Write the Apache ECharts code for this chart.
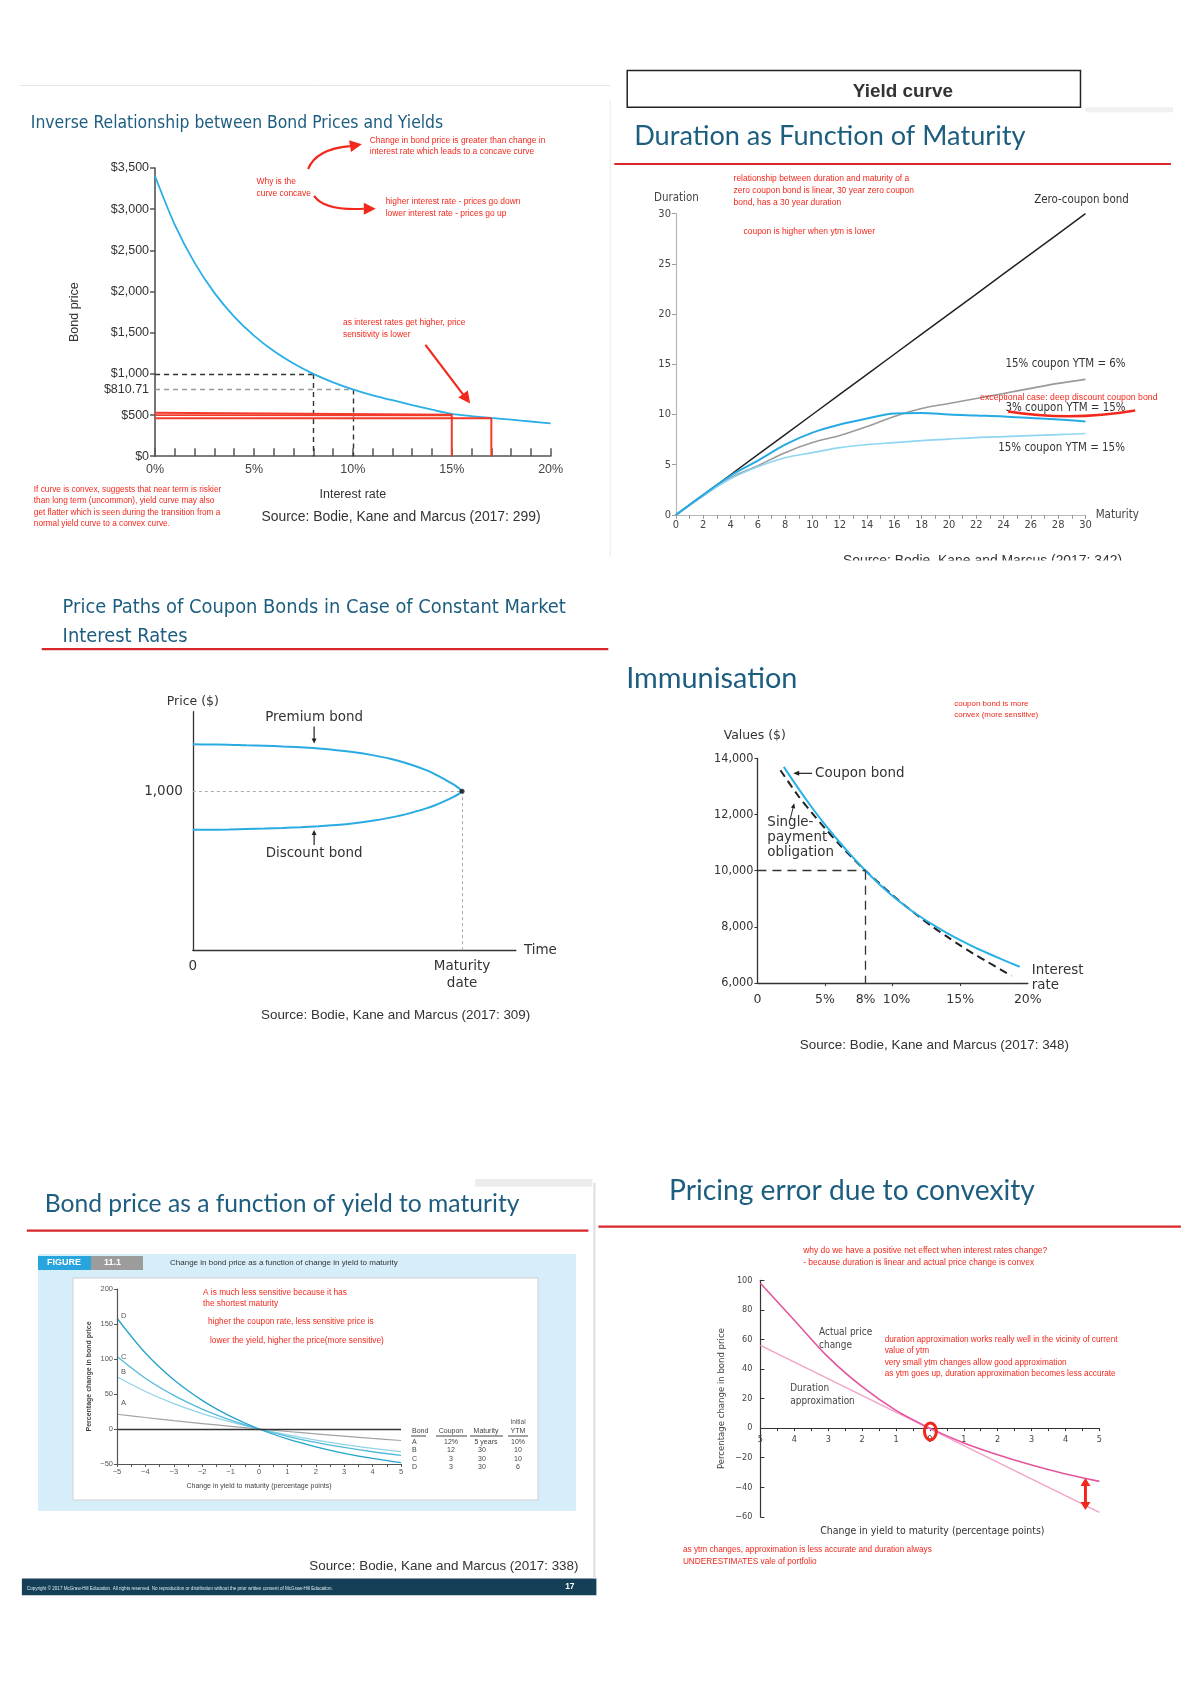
<!DOCTYPE html>
<html><head><meta charset="utf-8">
<script src="https://cdn.jsdelivr.net/npm/echarts@6/dist/echarts.min.js"></script>
<style>html,body{margin:0;padding:0;background:#fff;}#c{width:1200px;height:1698px;}</style>
</head><body><div id="c"></div>
<script>
// ---------- DATA ----------
// Panel 1: Inverse relationship between bond prices and yields
const p1Rates = [0,1,2,3,4,5,6,7,8,9,10,11,12,13,14,15,16,17,18,19,20];
const p1Prices = [3400,2810,2348,1984,1695,1464,1277,1125,1000,897,810.71,738,680,620,565,515,488,465,445,422,400];
const p1RedA = [[0,528],[15,505],[15,0]];
const p1RedB = [[0,500],[15,497]];
const p1RedC = [[0,462],[17,462],[17,0]];
// Panel 2: Duration as function of maturity
const p2Maturity = [0,2,4,6,8,10,12,14,16,18,20,22,24,26,28,30];
const p2Zero = [0,2,4,6,8,10,12,14,16,18,20,22,24,26,28,30];
const p2C15Y6 = [0,1.9,3.7,4.9,6.2,7.2,7.9,8.8,9.8,10.6,11.1,11.6,12.1,12.6,13.1,13.5];
const p2C3Y15 = [0,2.0,3.9,5.4,7.0,8.2,9.0,9.6,10.1,10.15,10.0,9.9,9.8,9.65,9.5,9.3];
const p2C15Y15 = [0,1.9,3.6,4.8,5.7,6.2,6.7,7.0,7.2,7.4,7.55,7.7,7.8,7.9,8.0,8.1];
// Panel 3: Price paths
const p3Time = [0,2,4,6,8,10,12,14,16,18,20,22,24,26,27,28,29,29.6,30];
const p3Premium = [1295,1294,1293,1289,1286,1281,1276,1268,1258,1245,1227,1204,1173,1133,1106,1076,1045,1021,1000];
const p3Discount = [757,758,759,762,765,769,774,780,788,799,814,834,859,892,912,936,963,982,1000];
// Panel 4: Immunisation
const p4CouponRate = [1.95,3,4,5,6,7,8,9,10,11,12,13,14,15,16,17,18,19.4];
const p4CouponVal = [13700,12950,12270,11640,11060,10510,10000,9530,9100,8720,8380,8070,7790,7530,7290,7070,6860,6580];
const p4ObligRate = [1.7,3,4,5,6,7,8,9,10,11,12,13,14,15,16,17,18,18.8];
const p4ObligVal = [13580,12680,12080,11510,10970,10470,10000,9560,9130,8730,8350,7990,7660,7340,7040,6760,6480,6260];
// Panel 5: Bond price vs change in YTM
const p5Change = [-5,-4,-3,-2,-1,0,1,2,3,4,5];
const p5A = [21.1,16.4,12.0,7.8,3.8,0,-3.6,-7.0,-10.3,-13.4,-16.4];
const p5B = [74.7,53.6,36.3,22.0,10.1,0,-8.5,-15.9,-22.2,-27.6,-32.4];
const p5C = [103.6,72.6,48.1,28.5,12.8,0,-10.5,-19.1,-26.3,-32.5,-37.6];
const p5D = [158.2,108.5,70.3,40.9,18.0,0,-14.2,-25.5,-34.7,-42.1,-48.1];
const p5Table = [['A','12%','5 years','10%'],['B','12','30','10'],['C','3','30','10'],['D','3','30','6']];
// Panel 6: Pricing error due to convexity
const p6Change = [-5,-4,-3,-2,-1,0,1,2,3,4,5];
const p6Actual = [98,73,48,28,12,0,-10,-18,-25,-31,-36];
const p6DurX = [-5,5];
const p6Dur = [56,-57];

// ---------- HELPERS ----------
const SC = 0.994;           // layout scale for positions measured from the overview
const S = v => v*SC;
const zip = (a,b) => a.map((v,i)=>[v,b[i]]);
const SANS = '"Liberation Sans", Arial, sans-serif';
const NARROW = '"Liberation Sans Narrow","DejaVu Sans Condensed","Liberation Sans",sans-serif';
const DJ = '"DejaVu Sans", sans-serif';
const CAL = 'Lato, "Open Sans", sans-serif';
const TEAL = '#1d5e80';
const RED = '#f2281c';
const RULE = '#d8262a';
function T(text,x,y,o){o=o||{};const a=o.a||'left',v=o.v||'middle';
  return {type:'text',x:x,y:y,z:o.z||100,style:{text:text,fill:o.c||'#333',
  font:(o.w||'normal')+' '+(o.s||12)+'px '+(o.f||SANS),textAlign:a,textVerticalAlign:v,align:a,verticalAlign:v,lineHeight:o.lh||Math.round((o.s||12)*1.25)}};}
function L(x1,y1,x2,y2,c,w,dash){return {type:'line',z:90,shape:{x1,y1,x2,y2},style:{stroke:c,lineWidth:w||1,lineDash:dash||null}};}
function R(x,y,w,h,fill,stroke,lw,z){return {type:'rect',z:z==null?1:z,shape:{x,y,width:w,height:h},style:{fill:fill||'none',stroke:stroke||null,lineWidth:lw||1}};}
function head(x,y,ang,len,wid,color){const c=Math.cos(ang),s=Math.sin(ang);const bx=x-len*c,by=y-len*s;
  return {type:'polygon',z:101,shape:{points:[[x,y],[bx-wid*s,by+wid*c],[bx+wid*s,by-wid*c]]},style:{fill:color}};}
function bez(x1,y1,cx,cy,x2,y2,c,w){return {type:'bezierCurve',z:100,shape:{x1,y1,x2,y2,cpx1:cx,cpy1:cy},style:{stroke:c,lineWidth:w,fill:null}};}
const money = v => '$' + Number(v).toLocaleString('en-US');
const comma = v => Number(v).toLocaleString('en-US');
const minus = v => v < 0 ? '\u2212' + (-v) : String(v);

// ---------- GRAPHICS (text & decorations) ----------
const g = [];   // scaled group
const g5 = [];  // unscaled (panel 5 figure internals)
// panel 1
g.push(L(20,86,614,86,'#e6e6e6',1));
g.push(L(614,100,614,560,'#f0f0f0',1.5));
g.push(T('Inverse Relationship between Bond Prices and Yields',31,124,{s:17.5,f:NARROW,c:TEAL}));
g.push(T('Change in bond price is greater than change in\ninterest rate which leads to a concave curve',372,136,{s:8.5,c:RED,v:'top',lh:11}));
g.push(T('Why is the\ncurve concave',258,177,{s:8.5,c:RED,v:'top',lh:12}));
g.push(T('higher interest rate - prices go down\nlower interest rate - prices go up',388,197,{s:8.5,c:RED,v:'top',lh:12}));
g.push(T('as interest rates get higher, price\nsensitivity is lower',345,319,{s:8.5,c:RED,v:'top',lh:12}));
g.push(T('If curve is convex, suggests that near term is riskier\nthan long term (uncommon), yield curve may also\nget flatter which is seen during the transition from a\nnormal yield curve to a convex curve.',34,487,{s:8.3,c:RED,v:'top',lh:11.5}));
g.push(T('Source: Bodie, Kane and Marcus (2017: 299)',263,520,{s:14}));
g.push(bez(310,170,318,150,352,147,RED,2.2)); g.push(head(364,145,Math.atan2(-2,12),12,6,RED));
g.push(bez(316,197,326,212,366,210,RED,2.2)); g.push(head(378,210,0,12,6,RED));
g.push(L(428,347,466,397,RED,2.2)); g.push(head(473,406,Math.atan2(51,38),12,6,RED));
// panel 2
g.push(R(631,71,456,37,'#fff','#222',1.5,2));
g.push(T('Yield curve',858,92,{s:19,w:'bold'}));
g.push(R(1092,108,88,5,'#f0f0f0',null,1,1));
g.push(T('Duration as Function of Maturity',638,137,{s:27.3,f:CAL,c:TEAL}));
g.push(L(618,165,1178,165,RULE,2.2));
g.push(T('Duration',658,199,{s:11.5,f:NARROW,c:'#444'}));
g.push(T('relationship between duration and maturity of a\nzero coupon bond is linear, 30 year zero coupon\nbond, has a 30 year duration',738,173,{s:8.5,c:RED,v:'top',lh:12.5}));
g.push(T('coupon is higher when ytm is lower',748,233,{s:8.5,c:RED}));
g.push(T('Zero-coupon bond',1088,201,{s:11.5,f:NARROW,a:'center',c:'#333'}));
g.push(T('15% coupon YTM = 6%',1072,366,{s:11.5,f:NARROW,a:'center',c:'#333'}));
g.push(T('3% coupon YTM = 15%',1072,410,{s:11.5,f:NARROW,a:'center',c:'#333'}));
g.push(T('15% coupon YTM = 15%',1068,451,{s:11.5,f:NARROW,a:'center',c:'#333'}));
g.push(T('exceptional case: deep discount coupon bond',986,400,{s:8.8,c:RED}));
g.push(bez(1014,414,1078,424,1142,413,RED,2.5));
g.push(T('Source: Bodie, Kane and Marcus (2017: 342)',848,565,{s:14}));
g.push(R(820,564,360,22,'#fff',null,1,120));
// panel 3
g.push(T('Price Paths of Coupon Bonds in Case of Constant Market\nInterest Rates',63,597,{s:20,f:NARROW,c:TEAL,v:'top',lh:29}));
g.push(L(42,653,612,653,RULE,2.2));
g.push(T('Premium bond',316,722,{s:13.5,a:'center',f:DJ}));
g.push(L(316,731,316,744,'#222',1.2)); g.push(head(316,748,Math.PI/2,5,2.5,'#222'));
g.push(T('Discount bond',316,859,{s:13.5,a:'center',f:DJ}));
g.push(L(316,850,316,839,'#222',1.2)); g.push(head(316,835,-Math.PI/2,5,2.5,'#222'));
g.push(T('Source: Bodie, Kane and Marcus (2017: 309)',398,1021,{s:13.5,a:'center'}));
// panel 4
g.push(T('Immunisation',630,683,{s:29,f:CAL,c:TEAL}));
g.push(T('coupon bond is more\nconvex (more sensitive)',960,703,{s:8,c:RED,v:'top',lh:11}));
g.push(T('Values ($)',728,740,{s:12.5,f:DJ}));
g.push(T('Coupon bond',820,778,{s:13.5,f:DJ}));
g.push(L(817,778,803,778,'#222',1.2)); g.push(head(798,778,Math.PI,6,2.5,'#222'));
g.push(T('Single-\npayment\nobligation',772,820,{s:13.5,f:DJ,v:'top',lh:15}));
g.push(L(795,824,798,812,'#222',1)); g.push(head(799,808,Math.atan2(-12,3),5,2.2,'#222'));
g.push(T('Interest\nrate',1038,969,{s:13.5,f:DJ,v:'top',lh:15}));
g.push(T('Source: Bodie, Kane and Marcus (2017: 348)',940,1052,{s:13.5,a:'center'}));
// panel 5 (slide frame parts)
g.push(R(478,1186,118,8,'#ececec',null,1,1));
g.push(L(598,1190,598,1588,'#dddddd',2));
g.push(T('Bond price as a function of yield to maturity',45,1211,{s:24.8,f:CAL,c:TEAL}));
g.push(L(27,1238,592,1238,RULE,2.2));
g.push(T('Source: Bodie, Kane and Marcus (2017: 338)',582,1576,{s:13.5,a:'right'}));
g.push(R(22,1588,578,17,'#143f56',null,1,2));
g.push(T('Copyright \u00a9 2017 McGraw-Hill Education. All rights reserved. No reproduction or distribution without the prior written consent of McGraw-Hill Education.',27,1598,{s:4.6,c:'#dfe9ee'}));
g.push(T('17',578,1596,{s:8.5,w:'bold',c:'#fff',a:'right'}));
// panel 5 figure internals (unscaled)
g5.push(R(38,1254,538,257,'#d6eef9',null,1,-5));
g5.push(R(38,1256,53,14,'#28a5dc',null,1,2));
g5.push(R(91,1256,52,14,'#9c9c9c',null,1,2));
g5.push(T('FIGURE',64,1263,{s:9,w:'bold',c:'#fff',a:'center'}));
g5.push(T('11.1',104,1263,{s:9,w:'bold',c:'#fff'}));
g5.push(T('Change in bond price as a function of change in yield to maturity',170,1263,{s:8,c:'#333'}));
g5.push(R(73,1278,465,222,'#fff','#d0d0d0',1,-4));
g5.push(T('A is much less sensitive because it has\nthe shortest maturity',203,1287,{s:8.3,c:RED,v:'top',lh:11}));
g5.push(T('higher the coupon rate, less sensitive price is',208,1322,{s:8.3,c:RED}));
g5.push(T('lower the yield, higher the price(more sensitive)',210,1341,{s:8.3,c:RED}));
g5.push(T('D',121,1316,{s:7.5,c:'#555'}));
g5.push(T('C',121,1357,{s:7.5,c:'#555'}));
g5.push(T('B',121,1372,{s:7.5,c:'#555'}));
g5.push(T('A',121,1403,{s:7.5,c:'#555'}));
const colX = [412,451,486,518];
g5.push(T('Initial',colX[3],1422,{s:6.5,a:'center',c:'#555'}));
['Bond','Coupon','Maturity','YTM'].forEach((h,i)=>{g5.push(T(h,colX[i],1431,{s:7,a:i===0?'left':'center',c:'#444'}));});
g5.push(L(411,1436,426,1436,'#444',1)); g5.push(L(436,1436,467,1436,'#444',1));
g5.push(L(470,1436,503,1436,'#444',1)); g5.push(L(508,1436,528,1436,'#444',1));
p5Table.forEach((row,r)=>{const y=1442+r*8.4;
  g5.push(T(row[0],colX[0],y,{s:7,c:'#444'}));
  g5.push(T(row[1],colX[1],y,{s:7,a:'center',c:'#444'}));
  g5.push(T(row[2],row[2].length>2?colX[2]:colX[2]-8,y,{s:7,a:row[2].length>2?'center':'left',c:'#444'}));
  g5.push(T(row[3],colX[3],y,{s:7,a:'center',c:'#444'}));});
// panel 6
g.push(T('Pricing error due to convexity',673,1198,{s:28.4,f:CAL,c:TEAL}));
g.push(L(602,1234,1188,1234,RULE,2.2));
g.push(T('why do we have a positive net effect when interest rates change?\n- because duration is linear and actual price change is convex',808,1252,{s:8.5,c:RED,v:'top',lh:12.5}));
g.push(T('Actual price\nchange',824,1334,{s:10,c:'#444',v:'top',lh:13,f:NARROW}));
g.push(T('Duration\napproximation',795,1390,{s:10,c:'#444',v:'top',lh:13,f:NARROW}));
g.push(T('duration approximation works really well in the vicinity of current\nvalue of ytm\nvery small ytm changes allow good approximation\nas ytm goes up, duration approximation becomes less accurate',890,1342,{s:8.3,c:RED,v:'top',lh:11.5}));
g.push({type:'ellipse',z:101,shape:{cx:936,cy:1440,rx:6,ry:8.5},style:{stroke:RED,lineWidth:3,fill:null}});
g.push(L(1092,1494,1092,1513,RED,3)); g.push(head(1092,1487,-Math.PI/2,8,5,RED)); g.push(head(1092,1519,Math.PI/2,8,5,RED));
g.push(T('Change in yield to maturity (percentage points)',938,1541,{s:10.5,a:'center',c:'#333',f:NARROW}));
g.push(T('as ytm changes, approximation is less accurate and duration always\nUNDERESTIMATES vale of portfolio',687,1553,{s:8.3,c:RED,v:'top',lh:12}));

// ---------- GRIDS ----------
const grids = [
  {left:S(156),top:S(169),width:S(398),height:S(290)},
  {left:S(680),top:S(215),width:S(412),height:S(303)},
  {left:S(194),top:S(716),width:S(325),height:S(240)},
  {left:S(762),top:S(763),width:S(272),height:S(226)},
  {left:117,top:1289,width:284,height:175},
  {left:S(765),top:S(1288),width:S(341),height:S(238)}
];
const p6ZeroOffset = grids[5].height*60/160; // distance from bottom edge to the zero line

// ---------- AXES ----------
const noSplit = {show:false};
const xAxes = [
  {gridIndex:0,type:'value',min:0,max:20,interval:1,splitLine:noSplit,
   axisLine:{onZero:false,lineStyle:{color:'#555',width:1.6}},axisTick:{inside:true,length:8,lineStyle:{color:'#555',width:1.5}},
   axisLabel:{formatter:v=>v%5===0?v+'%':'',color:'#444',fontSize:12.5,margin:7,fontFamily:SANS},
   name:'Interest rate',nameLocation:'middle',nameGap:32,nameTextStyle:{fontSize:12.5,color:'#333',fontFamily:SANS}},
  {gridIndex:1,type:'value',min:0,max:30,interval:1,splitLine:noSplit,
   axisLine:{onZero:false,lineStyle:{color:'#b8b8b8',width:1.2}},axisTick:{length:4,lineStyle:{color:'#999'}},
   axisLabel:{formatter:v=>v%2===0?String(v):'',color:'#444',fontSize:11,margin:5,fontFamily:NARROW},
   name:'Maturity',nameLocation:'end',nameGap:2,nameTextStyle:{fontSize:11.5,color:'#444',fontFamily:NARROW}},
  {gridIndex:2,type:'value',min:0,max:36,splitLine:noSplit,
   axisLine:{onZero:false,lineStyle:{color:'#333',width:1.3}},axisTick:{show:false},
   axisLabel:{customValues:[0,30],formatter:v=>v===0?'0':'Maturity\ndate',color:'#333',fontSize:13.5,margin:8,lineHeight:17,fontFamily:DJ},
   name:'Time',nameLocation:'end',nameGap:8,nameTextStyle:{fontSize:13.5,color:'#333',fontFamily:DJ}},
  {gridIndex:3,type:'value',min:0,max:20,splitLine:noSplit,
   axisLine:{onZero:false,lineStyle:{color:'#333',width:1.3}},axisTick:{customValues:[5,10,15],length:3,lineStyle:{color:'#333'}},
   axisLabel:{customValues:[0,5,8,10,15,20],formatter:v=>v===0?'0':(v===10?'  ':'')+v+'%',color:'#333',fontSize:12.5,margin:10,fontFamily:DJ}},
  {gridIndex:4,type:'value',min:-5,max:5,interval:0.5,splitLine:noSplit,z:20,
   axisLine:{onZero:false,lineStyle:{color:'#555',width:1.2}},axisTick:{length:3,lineStyle:{color:'#555'}},
   axisLabel:{formatter:v=>Number.isInteger(v)?minus(v):'',color:'#555',fontSize:7.5,margin:4},
   name:'Change in yield to maturity (percentage points)',nameLocation:'middle',nameGap:19,nameTextStyle:{fontSize:7,color:'#444'}},
  {gridIndex:5,type:'value',min:-5,max:5,interval:0.5,splitLine:noSplit,
   axisLine:{onZero:true,lineStyle:{color:'#333',width:1.2}},axisTick:{length:3,lineStyle:{color:'#333'}},
   axisLabel:{formatter:v=>Number.isInteger(v)?String(Math.abs(v)):'',color:'#444',fontSize:9,margin:7-p6ZeroOffset,fontFamily:NARROW}}
];
const yAxes = [
  {gridIndex:0,type:'value',min:0,max:3500,interval:500,splitLine:noSplit,
   axisLine:{show:true,onZero:false,lineStyle:{color:'#555',width:1.6}},axisTick:{show:true,length:5,lineStyle:{color:'#555',width:1.5}},
   axisLabel:{formatter:money,color:'#333',fontSize:12.5,margin:6,fontFamily:SANS},
   name:'Bond price',nameLocation:'middle',nameGap:74,nameRotate:90,nameTextStyle:{fontSize:12.5,color:'#333',fontFamily:SANS}},
  {gridIndex:1,type:'value',min:0,max:30,interval:5,splitLine:noSplit,
   axisLine:{show:true,onZero:false,lineStyle:{color:'#b8b8b8',width:1.2}},axisTick:{show:true,length:4,lineStyle:{color:'#999'}},
   axisLabel:{color:'#444',fontSize:11,margin:5,fontFamily:NARROW}},
  {gridIndex:2,type:'value',min:0,max:1500,splitLine:noSplit,
   axisLine:{show:true,onZero:false,lineStyle:{color:'#333',width:1.3}},axisTick:{show:false},
   axisLabel:{customValues:[1000],formatter:comma,color:'#333',fontSize:13.5,margin:10,fontFamily:DJ},
   name:'Price ($)',nameLocation:'end',nameGap:3,nameTextStyle:{fontSize:12.5,color:'#333',fontFamily:DJ}},
  {gridIndex:3,type:'value',min:6000,max:14000,interval:2000,splitLine:noSplit,
   axisLine:{show:true,onZero:false,lineStyle:{color:'#333',width:1.3}},axisTick:{show:true,length:3,lineStyle:{color:'#333'}},
   axisLabel:{formatter:comma,color:'#333',fontSize:12.5,margin:4,fontFamily:'"DejaVu Sans Condensed","DejaVu Sans",sans-serif'}},
  {gridIndex:4,type:'value',min:-50,max:200,interval:50,splitLine:noSplit,z:20,
   axisLine:{show:true,onZero:false,lineStyle:{color:'#555',width:1.2}},axisTick:{show:true,length:3,lineStyle:{color:'#555'}},
   axisLabel:{formatter:minus,color:'#555',fontSize:7.5,margin:4},
   name:'Percentage change in bond price',nameLocation:'middle',nameGap:24,nameRotate:90,nameTextStyle:{fontSize:7,color:'#444',fontWeight:'bold'}},
  {gridIndex:5,type:'value',min:-60,max:100,interval:20,splitLine:noSplit,
   axisLine:{show:true,onZero:false,lineStyle:{color:'#333',width:1.2}},axisTick:{show:true,inside:true,length:4,lineStyle:{color:'#333'}},
   axisLabel:{formatter:minus,color:'#444',fontSize:9,margin:8,fontFamily:NARROW},
   name:'Percentage change in bond price',nameLocation:'middle',nameGap:34,nameRotate:90,nameTextStyle:{fontSize:9.5,color:'#444',fontFamily:NARROW}}
];

// ---------- SERIES ----------
const line = (xi,data,color,width,extra) => Object.assign({type:'line',xAxisIndex:xi,yAxisIndex:xi,data:data,showSymbol:false,symbol:'none',
  lineStyle:{color:color,width:width},itemStyle:{color:color},silent:true,animation:false},extra||{});
const dash = [5,4];
const series = [
  line(0,zip(p1Rates,p1Prices),'#2aaee8',1.8,{smooth:0.3,z:5,
    markLine:{silent:true,symbol:'none',animation:false,label:{show:false},data:[
      [{coord:[0,1000],lineStyle:{color:'#333',type:dash,width:1.4}},{coord:[8,1000]}],
      [{coord:[8,1000],lineStyle:{color:'#333',type:dash,width:1.4}},{coord:[8,0]}],
      [{coord:[0,810.71],lineStyle:{color:'#999',type:dash,width:1.4},label:{show:true,position:'start',distance:6,formatter:'$810.71',color:'#333',fontSize:12.5,fontFamily:SANS}},{coord:[10,810.71]}],
      [{coord:[10,810.71],lineStyle:{color:'#333',type:dash,width:1.4}},{coord:[10,0]}]
    ]}}),
  line(0,p1RedA,'#f23a2a',2,{z:6}),
  line(0,p1RedB,'#f23a2a',1.8,{z:6}),
  line(0,p1RedC,'#f23a2a',2,{z:6}),
  line(1,zip(p2Maturity,p2Zero),'#222',1.5),
  line(1,zip(p2Maturity,p2C15Y6),'#9a9a9a',1.6,{smooth:0.35}),
  line(1,zip(p2Maturity,p2C15Y15),'#8fd6f2',1.6,{smooth:0.35}),
  line(1,zip(p2Maturity,p2C3Y15),'#27aae2',2,{smooth:0.35}),
  line(2,zip(p3Time,p3Premium),'#29abe2',2,{smooth:0.35,
    markLine:{silent:true,symbol:'none',animation:false,label:{show:false},data:[
      [{coord:[0,1000],lineStyle:{color:'#aaa',type:[3,3],width:1}},{coord:[30,1000]}],
      [{coord:[30,1000],lineStyle:{color:'#aaa',type:[3,3],width:1}},{coord:[30,0]}]
    ]}}),
  line(2,zip(p3Time,p3Discount),'#29abe2',2,{smooth:0.35}),
  {type:'scatter',xAxisIndex:2,yAxisIndex:2,data:[[p3Time[p3Time.length-1],p3Premium[p3Premium.length-1]]],symbolSize:5,itemStyle:{color:'#111'},z:10,silent:true,animation:false},
  line(3,zip(p4ObligRate,p4ObligVal),'#222',2,{smooth:0.3,lineStyle:{color:'#222',width:2,type:[8,5]},
    markLine:{silent:true,symbol:'none',animation:false,label:{show:false},data:[
      [{coord:[0,10000],lineStyle:{color:'#333',type:[9,6],width:1.3}},{coord:[8,10000]}],
      [{coord:[8,10000],lineStyle:{color:'#333',type:[9,6],width:1.3}},{coord:[8,6000]}]
    ]}}),
  line(3,zip(p4CouponRate,p4CouponVal),'#29b1e8',2,{smooth:0.3,z:4}),
  line(4,zip(p5Change,p5A),'#a3a3a3',1.2,{smooth:0.3,
    markLine:{silent:true,symbol:'none',animation:false,label:{show:false},data:[
      [{coord:[-5,0],lineStyle:{color:'#333',type:'solid',width:1.3}},{coord:[5,0]}]]}}),
  line(4,zip(p5Change,p5B),'#93d3e8',1.3,{smooth:0.3}),
  line(4,zip(p5Change,p5C),'#52bbdb',1.3,{smooth:0.3}),
  line(4,zip(p5Change,p5D),'#24a4cb',1.3,{smooth:0.3}),
  line(5,zip(p6DurX,p6Dur),'#f3a0c9',1.3),
  line(5,zip(p6Change,p6Actual),'#e3559c',1.6,{smooth:0.3})
];

const chart = echarts.init(document.getElementById('c'),null,{renderer:'canvas'});
chart.setOption({
  backgroundColor:'#ffffff',
  animation:false,
  grid:grids,
  xAxis:xAxes, yAxis:yAxes, series:series,
  graphic:{elements:[
    {type:'group',x:0,y:0,scaleX:1,scaleY:1,children:g5},
    {type:'group',x:0,y:0,scaleX:SC,scaleY:SC,children:g}
  ]}
});
</script></body></html>
